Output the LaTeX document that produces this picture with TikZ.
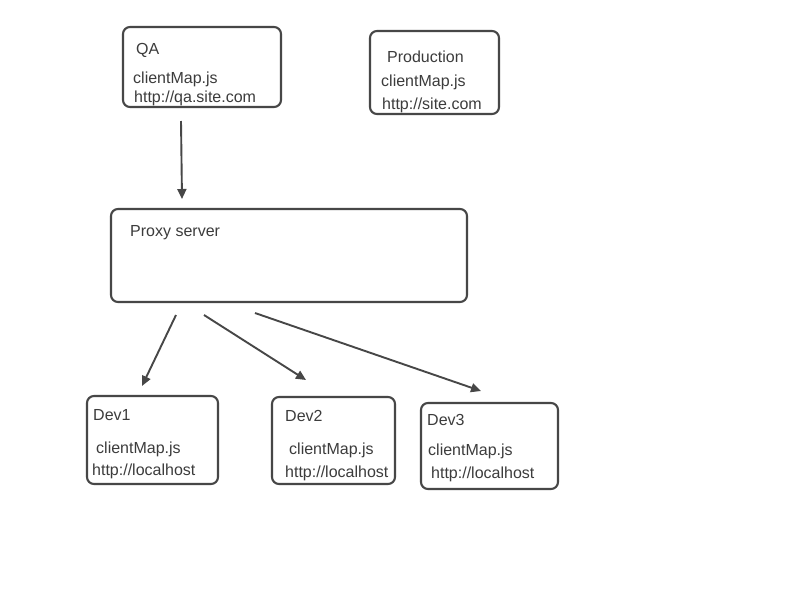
\documentclass[tikz,border=0pt]{standalone}
\usepackage{fontspec}
\setmainfont{Liberation Sans}
\usetikzlibrary{arrows.meta}
\definecolor{ink}{HTML}{474747}
\definecolor{txt}{HTML}{3C3C3C}
\begin{document}
\begin{tikzpicture}[x=1pt,y=-1pt,
  box/.style={draw=ink,line width=2.1pt,rounded corners=7pt},
  lbl/.style={anchor=base west,inner sep=0pt,text=txt,font=\fontsize{16}{19}\selectfont},
  conn/.style={draw=ink,line width=1.9pt,-{Triangle[length=10pt,width=9pt]}}]
\useasboundingbox[fill=white] (0,0) rectangle (800,600);
% boxes
\draw[box] (123,27) rectangle (281,107);
\node[inner sep=0,minimum size=0] (qa) at (202,67) {};
\draw[box] (370,31) rectangle (499,114);
\node[inner sep=0] (prod) at (434,72) {};
\draw[box] (111,209) rectangle (467,302);
\node[inner sep=0] (proxy) at (289,255) {};
\draw[box] (87,396) rectangle (218,484);
\node[inner sep=0] (dev1) at (152,440) {};
\draw[box] (272,397) rectangle (395,484);
\node[inner sep=0] (dev2) at (333,440) {};
\draw[box] (421,403) rectangle (558,489);
\node[inner sep=0] (dev3) at (489,446) {};
% labels
\node[lbl] (qat) at (136,54) {QA};
\node[lbl] (qa1) at (133,83) {clientMap.js};
\node[lbl] (qa2) at (134,102) {http://qa.site.com};
\node[lbl] (pt) at (387,62) {Production};
\node[lbl] (p1) at (381,86) {clientMap.js};
\node[lbl] (p2) at (382,109) {http://site.com};
\node[lbl] (pxt) at (130,236) {Proxy server};
\node[lbl] (d1t) at (93,420) {Dev1};
\node[lbl] (d11) at (96,453) {clientMap.js};
\node[lbl] (d12) at (92,475) {http://localhost};
\node[lbl] (d2t) at (285,421) {Dev2};
\node[lbl] (d21) at (289,454) {clientMap.js};
\node[lbl] (d22) at (285,477) {http://localhost};
\node[lbl] (d3t) at (427,425) {Dev3};
\node[lbl] (d31) at (428,455) {clientMap.js};
\node[lbl] (d32) at (431,478) {http://localhost};
% connector ends
\coordinate (a0s) at (181,121); \coordinate (a0e) at (182,199);
\coordinate (a1s) at (176,315); \coordinate (a1e) at (142,386);
\coordinate (a2s) at (204,315); \coordinate (a2e) at (306,380);
\coordinate (a3s) at (255,313); \coordinate (a3e) at (481,391);
\draw[conn] (a0s) -- (a0e);
\draw[conn] (a1s) -- (a1e);
\draw[conn] (a2s) -- (a2e);
\draw[conn] (a3s) -- (a3e);
\end{tikzpicture}
\end{document}
